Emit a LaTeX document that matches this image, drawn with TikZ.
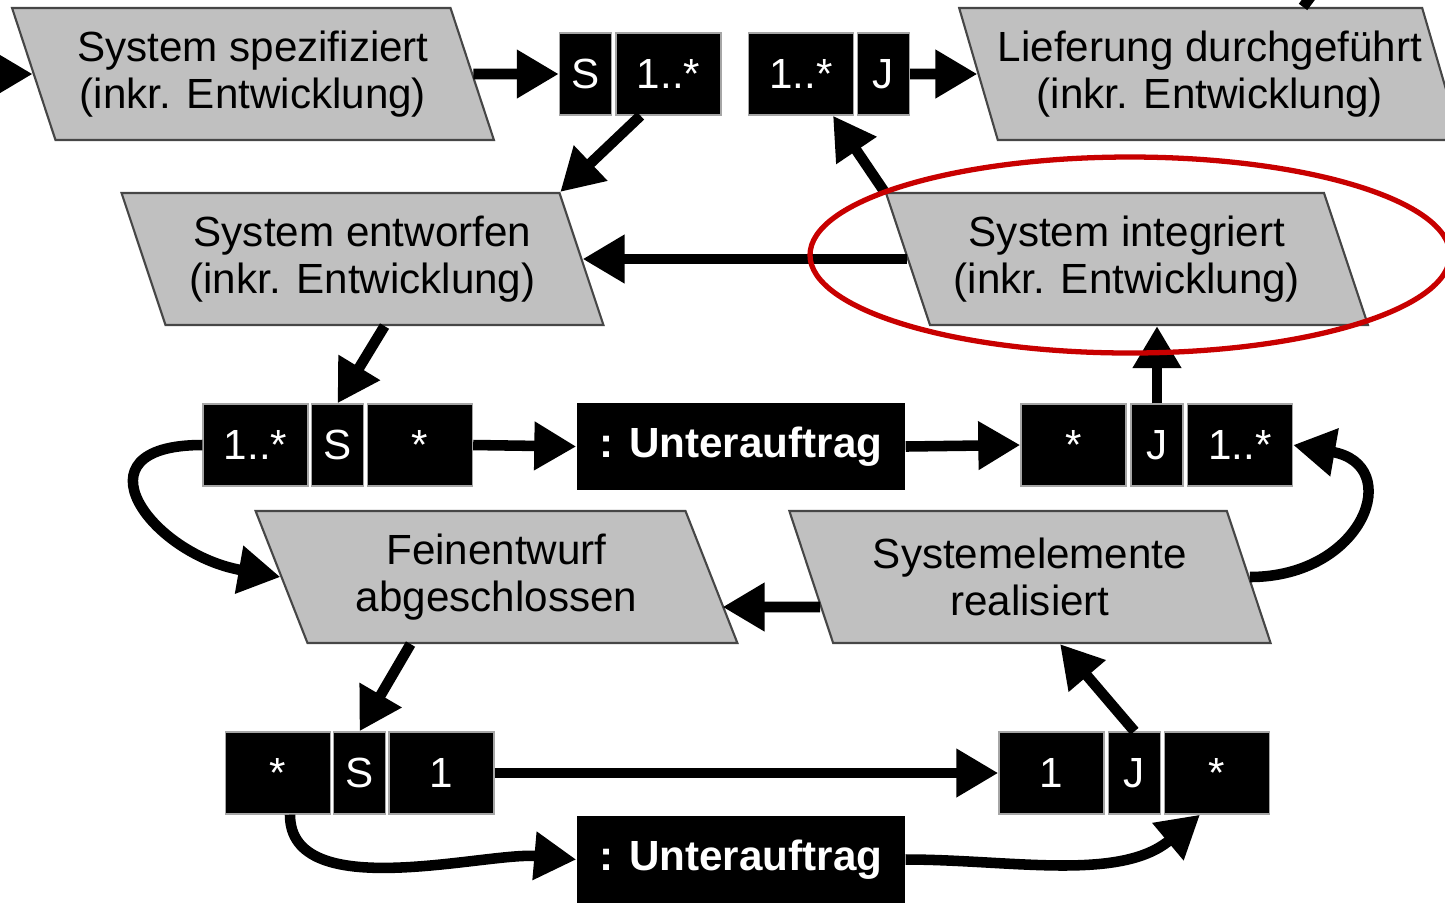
\documentclass[tikz,border=0pt]{standalone}
\usepackage{fontspec}
\setmainfont{Liberation Sans}
\usetikzlibrary{shapes.geometric,arrows.meta}
\definecolor{evgray}{RGB}{192,192,192}
\definecolor{evline}{RGB}{70,70,70}
\definecolor{markred}{RGB}{200,0,0}
\begin{document}
\begin{tikzpicture}[
    event/.style={trapezium, trapezium left angle=114, trapezium right angle=66,
      trapezium stretches=true, draw=evline, line width=0.6pt, fill=evgray,
      minimum width=4.82cm, minimum height=1.32cm, inner sep=0pt, align=center,
      font=\fontsize{12}{13.5}\selectfont},
    cell/.style={draw=gray!70, fill=black, text=white, minimum height=0.82cm,
      inner sep=0pt, font=\fontsize{12}{14}\selectfont},
    wide/.style={cell, minimum width=1.05cm},
    narrow/.style={cell, minimum width=0.52cm},
    order/.style={fill=black, text=white, minimum width=3.28cm, minimum height=0.87cm,
      font=\bfseries\fontsize{12}{14}\selectfont},
    conn/.style={line width=3pt, -{Triangle[length=0.42cm,width=0.46cm]}},
    stub/.style={line width=3pt}]
  \useasboundingbox (0,0) rectangle (14.45,-9.02);

  \node[event] (spez) at (2.53,-0.74) {System spezifiziert\\(inkr. Entwicklung)};
  \node[event] (lief) at (12.10,-0.74) {Lieferung durchgeführt\\(inkr. Entwicklung)};
  \node[event] (entw) at (3.625,-2.59) {System entworfen\\(inkr. Entwicklung)};
  \node[event] (integ) at (11.27,-2.59) {System integriert\\(inkr. Entwicklung)};
  \node[event] (fein) at (4.965,-5.77) {Feinentwurf\\abgeschlossen};
  \node[event] (sysel) at (10.30,-5.77) {Systemelemente\\realisiert};

  \node[narrow] (a1) at (5.855,-0.74) {S};
  \node[wide] (a2) at (6.685,-0.74) {1..*};
  \node[wide] (b1) at (8.01,-0.74) {1..*};
  \node[narrow] (b2) at (8.835,-0.74) {J};

  \node[wide] (c1) at (2.555,-4.45) {1..*};
  \node[narrow] (c2) at (3.375,-4.45) {S};
  \node[wide] (c3) at (4.20,-4.45) {*};
  \node[order] (auf1) at (7.41,-4.465) {: Unterauftrag};
  \node[wide] (d1) at (10.735,-4.45) {*};
  \node[narrow] (d2) at (11.57,-4.45) {J};
  \node[wide] (d3) at (12.40,-4.45) {1..*};

  \node[wide] (e1) at (2.78,-7.73) {*};
  \node[narrow] (e2) at (3.595,-7.73) {S};
  \node[wide] (e3) at (4.415,-7.73) {1};
  \node[wide] (f1) at (10.515,-7.73) {1};
  \node[narrow] (f2) at (11.345,-7.73) {J};
  \node[wide] (f3) at (12.17,-7.73) {*};
  \node[order] (auf2) at (7.41,-8.595) {: Unterauftrag};

  \coordinate (start) at (0,-0.74);
  \coordinate (top) at (13.12,0.05);

  \draw[conn] (start) -- (spez.west);
  \draw[conn] (spez.east) -- (a1.west);
  \draw[conn] ([xshift=-0.28cm]a2.south) -- (entw.top right corner);
  \draw[conn] (b2.east) -- (lief.west);
  \draw[stub] (top) -- ([xshift=0.93cm]lief.north);
  \draw[conn] (integ.top left corner) -- ([xshift=0.32cm]b1.south);
  \draw[conn] (integ.west) -- (entw.east);
  \draw[conn] ([xshift=0.22cm]entw.south) -- (c2.north);
  \draw[conn] (c3.east) -- (auf1.west);
  \draw[conn] (auf1.east) -- (d1.west);
  \draw[conn] (d2.north) -- (d2.north |- integ.south);
  \draw[conn] (c1.west) to[out=180, in=170, looseness=2.2] (fein.west);
  \draw[conn] (sysel.east) to[out=0, in=-10, looseness=2.1] (d3.east);
  \draw[conn] ([shift={(0.1,-0.3)}]sysel.west) -- ([shift={(0.1,-0.3)}]fein.east);
  \draw[conn] ([xshift=-0.86cm]fein.south) -- (e2.north);
  \draw[conn] (e3.east) -- (f1.west);
  \draw[conn] (f2.north) -- ([xshift=0.3cm]sysel.south);
  \draw[conn] ([xshift=0.12cm]e1.south) to[out=-90, in=175, looseness=0.8] (auf2.west);
  \draw[conn] (auf2.east) to[out=0, in=-140, looseness=0.9] ([xshift=-0.17cm]f3.south);

  \draw[markred, line width=1.5pt] (11.30,-2.55) ellipse (3.20cm and 0.98cm);
\end{tikzpicture}
\end{document}
